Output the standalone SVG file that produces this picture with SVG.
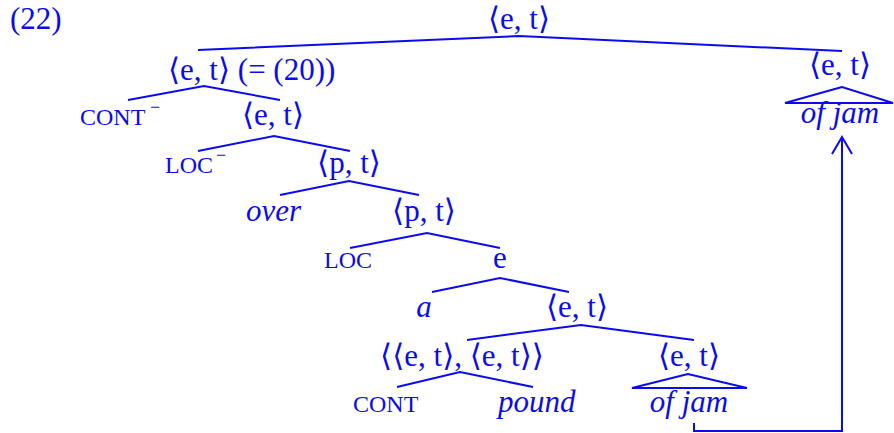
<svg xmlns="http://www.w3.org/2000/svg" width="894" height="433" viewBox="0 0 894 433">
<style>
text{font-family:"Liberation Serif","DejaVu Serif",serif;fill:#0b0bf0;font-size:31px}
.m{text-anchor:middle}
.s{font-size:24px}
.i{font-style:italic}
.sup{font-size:18px}
line,polyline,polygon{stroke:#0b0bf0;stroke-width:2;fill:none}
</style>
<text x="10" y="29">(22)</text>
<g id="n-root"><text class="m" x="519" y="29">⟨e, t⟩</text></g>
<g id="n-et20"><text x="168" y="80">⟨e, t⟩ (= (20))</text></g>
<g id="n-cont-minus"><text class="s" x="80" y="125">CONT</text><text class="sup" x="150" y="113">−</text></g>
<g id="n-et2"><text class="m" x="273" y="125">⟨e, t⟩</text></g>
<g id="n-loc-minus"><text class="s" x="165" y="173">LOC</text><text class="sup" x="216" y="161">−</text></g>
<g id="n-pt1"><text class="m" x="349" y="173">⟨p, t⟩</text></g>
<g id="n-over"><text class="i" x="246" y="221">over</text></g>
<g id="n-pt2"><text class="m" x="424" y="221">⟨p, t⟩</text></g>
<g id="n-loc"><text class="s" x="324" y="268">LOC</text></g>
<g id="n-e"><text class="m" x="500" y="268">e</text></g>
<g id="n-a"><text class="i m" x="424" y="317">a</text></g>
<g id="n-et3"><text class="m" x="577" y="317">⟨e, t⟩</text></g>
<g id="n-etet"><text class="m" x="462" y="366">⟨⟨e, t⟩, ⟨e, t⟩⟩</text></g>
<g id="n-et4"><text class="m" x="689" y="366">⟨e, t⟩</text><polygon points="688,374 632,388 747,388"/></g>
<g id="n-cont"><text class="s" x="353" y="412">CONT</text></g>
<g id="n-pound"><text class="i" x="498" y="412">pound</text></g>
<g id="n-ofjam1"><text class="i m" x="689" y="412">of jam</text></g>
<g id="n-et-right"><text class="m" x="840" y="75">⟨e, t⟩</text><polygon points="842,87 785,103 893,103"/></g>
<g id="n-ofjam2"><text class="i m" x="840" y="123">of jam</text></g>
<g id="connectors">
<polyline points="198,50 519,36 842,51"/>
<polyline points="128,100 204,86 280,100"/>
<polyline points="198,151 274,136 350,151"/>
<polyline points="280,195 349,181 419,195"/>
<polyline points="350,248 427,233 500,248"/>
<polyline points="432,292 500,278 569,292"/>
<polyline points="467,340 581,325 694,340"/>
<polyline points="397,387 460,372 533,387"/>
<polyline points="694,423 694,431 842,431 842,137"/>
<polyline points="832,154 842,137 852,154"/>
</g>
</svg>
